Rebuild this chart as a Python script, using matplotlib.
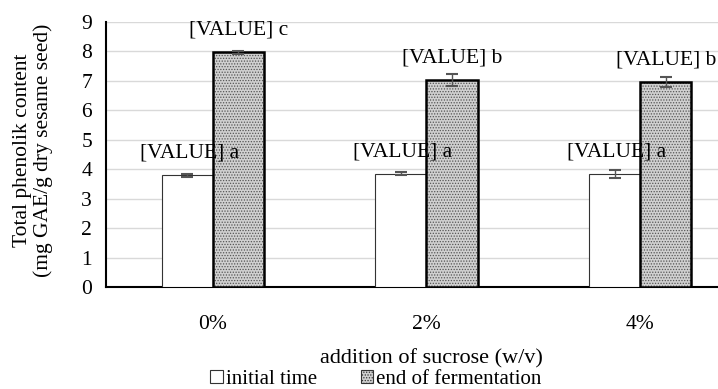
import matplotlib
matplotlib.use("Agg")
import matplotlib.pyplot as plt
import numpy as np
from matplotlib.patches import Patch

plt.rcParams['font.family'] = ['Liberation Serif', 'DejaVu Serif']
plt.rcParams['hatch.linewidth'] = 0.6

categories = ['0%', '2%', '4%']
initial = [3.80, 3.85, 3.83]
initial_err = [0.05, 0.04, 0.14]
end = [7.97, 7.03, 6.95]
end_err = [0.05, 0.22, 0.17]
initial_letters = ['a', 'a', 'a']
end_letters = ['c', 'b', 'b']
series_names = ['initial time', 'end of fermentation']

W, H = 718, 389
FS = 15.5
fig = plt.figure(figsize=(W/100, H/100), dpi=100)
ax = fig.add_axes([106/W, 1-287/H, (747-106)/W, (287-22)/H])

x = np.arange(len(categories))
bw = 0.24
ax.bar(x - bw/2, initial, bw, color='white', edgecolor='#333333', linewidth=0.8, zorder=3)
ax.bar(x + bw/2, end, bw, color='#d0d0d0', edgecolor='#555555', linewidth=0, hatch='......', zorder=3)
ax.bar(x + bw/2, end, bw, color='none', edgecolor='black', linewidth=1.8, zorder=3)
ax.errorbar(x - bw/2, initial, yerr=initial_err, fmt='none', ecolor='#555555', capsize=4, elinewidth=1, capthick=1.5, zorder=4)
ax.errorbar(x + bw/2, end, yerr=end_err, fmt='none', ecolor='#555555', capsize=4, elinewidth=1, capthick=1.5, zorder=4)

for i in range(len(categories)):
    ax.text(x[i] - bw/2 + 0.01, initial[i] + 0.75, f'[VALUE] {initial_letters[i]}', ha='center', va='center', fontsize=FS, zorder=5)
    ax.text(x[i] + bw/2, end[i] + 0.75, f'[VALUE] {end_letters[i]}', ha='center', va='center', fontsize=FS, zorder=5)

ax.set_xlim(-0.5, 2.5)
ax.set_ylim(0, 9)
ax.set_yticks(range(10))
ax.set_xticks(x)
ax.set_xticklabels(categories)
ax.tick_params(axis='x', length=0, pad=20, labelsize=FS)
ax.tick_params(axis='y', length=0, pad=10, labelsize=FS)
ax.grid(axis='y', color='#d9d9d9', linewidth=1, zorder=0)
ax.set_axisbelow(True)
for s in ['top', 'right']:
    ax.spines[s].set_visible(False)
ax.spines['left'].set_linewidth(1.5)
ax.spines['bottom'].set_linewidth(1.5)

fig.text(33/W, 1-150/H, 'Total phenolik content\n(mg GAE/g dry sesame seed)', rotation=90, ha='center', va='center', fontsize=FS, linespacing=1.05)
fig.text(431/W, 1-359/H, 'addition of sucrose (w/v)', ha='center', va='center', fontsize=16)

handles = [Patch(facecolor='white', edgecolor='#333333', linewidth=0.8),
           Patch(facecolor='#d0d0d0', edgecolor='#333333', linewidth=0.8, hatch='......')]
fig.legend(handles, series_names, loc='center', bbox_to_anchor=(376/W, 1-379/H), ncol=2, frameon=False,
           fontsize=15, handlelength=0.6, handleheight=0.6, handletextpad=0.15, columnspacing=2.1, borderpad=0)

fig.savefig('out.png', dpi=100)
